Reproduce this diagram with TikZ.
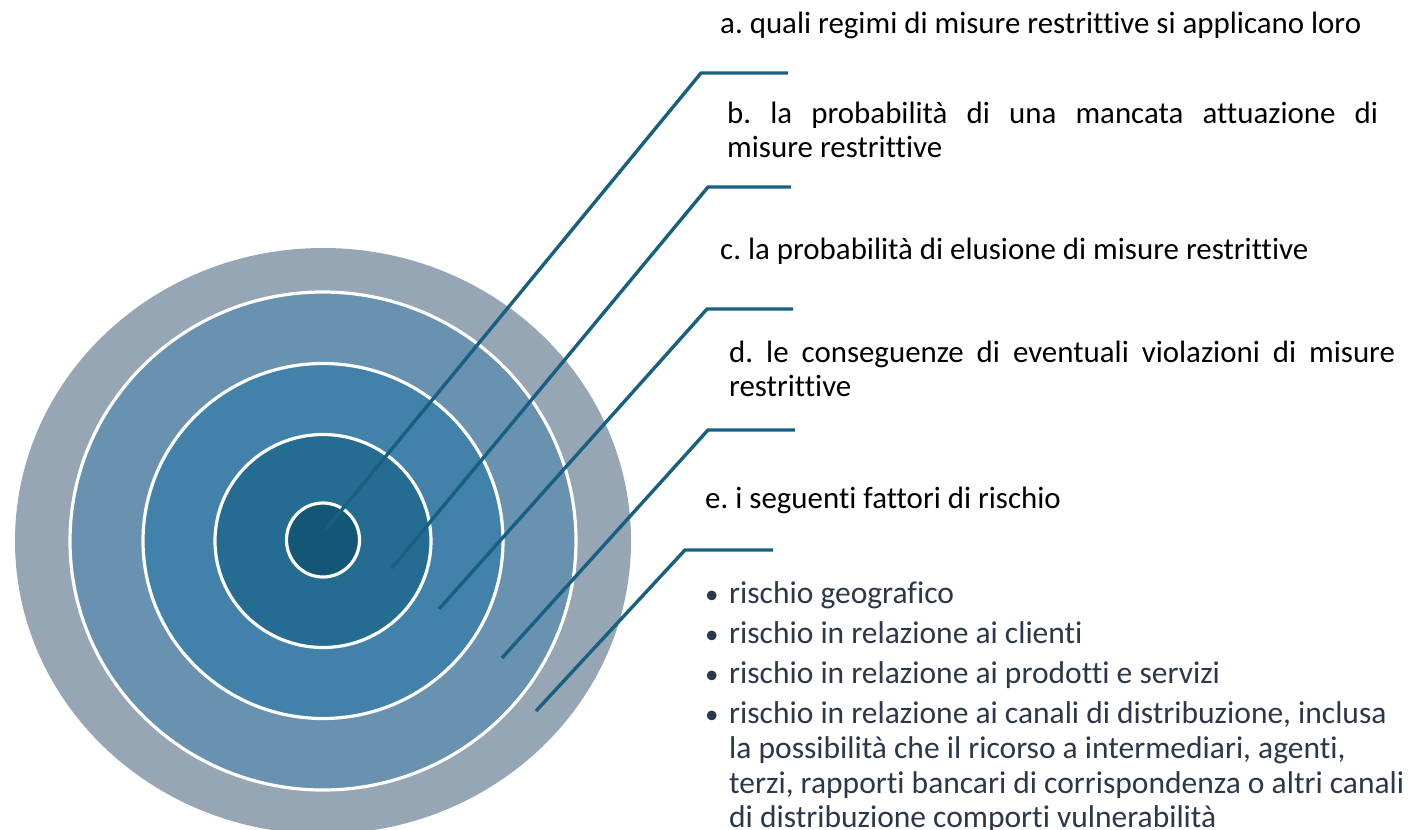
\documentclass[tikz,border=0pt]{standalone}
\usepackage{fontspec}
\setmainfont{Carlito}[Ligatures=NoCommon]
\definecolor{ringA}{RGB}{151,166,180}
\definecolor{ringB}{RGB}{105,146,177}
\definecolor{ringC}{RGB}{66,129,170}
\definecolor{ringD}{RGB}{37,108,146}
\definecolor{ringE}{RGB}{19,86,117}
\definecolor{leadc}{RGB}{24,96,130}
\definecolor{bulc}{RGB}{42,56,74}
\tikzset{
  ringstyle/.style={draw=white,line width=3.2pt},
  leader/.style={draw=leadc,line width=3.4pt,line join=miter},
  head/.style={anchor=base west,inner sep=0pt,font=\fontsize{30.9}{35}\selectfont,text=black},
  bul/.style={anchor=base west,inner sep=0pt,font=\fontsize{31.5}{35}\selectfont,text=bulc},
  dot/.style={anchor=base west,inner sep=0pt,font=\fontsize{27}{33}\selectfont,text=bulc},
}
\frenchspacing
\begin{document}
\begin{tikzpicture}[x=1pt,y=-1pt]
\useasboundingbox (0,0) rectangle (1409,830);
\clip (0,0) rectangle (1409,830);
% target rings
\fill[ringA] (323,541) ellipse [x radius=308,y radius=293];
\filldraw[ringstyle,fill=ringB] (323,541) ellipse [x radius=253,y radius=249];
\filldraw[ringstyle,fill=ringC] (323,541) ellipse [x radius=180,y radius=177.5];
\filldraw[ringstyle,fill=ringD] (323,541) ellipse [x radius=108,y radius=106.5];
\filldraw[ringstyle,fill=ringE] (323,540) ellipse [x radius=36.5,y radius=37];
% leader coordinates
\coordinate (a0) at (326,529); \coordinate (a1) at (701,73); \coordinate (a2) at (788,73);
\coordinate (b0) at (392,568); \coordinate (b1) at (708,187); \coordinate (b2) at (791,187);
\coordinate (c0) at (439,609); \coordinate (c1) at (707,309); \coordinate (c2) at (793,309);
\coordinate (d0) at (502,658); \coordinate (d1) at (708,430); \coordinate (d2) at (795,430);
\coordinate (e0) at (536,711); \coordinate (e1) at (685,550); \coordinate (e2) at (773,550);
\draw[leader] (a0) -- (a1) -- (a2);
\draw[leader] (b0) -- (b1) -- (b2);
\draw[leader] (c0) -- (c1) -- (c2);
\draw[leader] (d0) -- (d1) -- (d2);
\draw[leader] (e0) -- (e1) -- (e2);
% headings
\node[head] (ta) at (720,33) {a. quali regimi di misure restrittive si applicano loro};
\node[head] (tb1) at (727,123) {\makebox[651pt][s]{b. la probabilità di una mancata attuazione di}};
\node[head] (tb2) at (727,157) {misure restrittive};
\node[head] (tc) at (720,259) {c. la probabilità di elusione di misure restrittive};
\node[head] (td1) at (729,362) {\makebox[666pt][s]{d. le conseguenze di eventuali violazioni di misure}};
\node[head] (td2) at (729,396) {restrittive};
\node[head] (te) at (705,508) {e. i seguenti fattori di rischio};
% bullets
\node[dot] (k1) at (705,603) {•};
\node[dot] (k2) at (705,643) {•};
\node[dot] (k3) at (705,683) {•};
\node[dot] (k4) at (705,723) {•};
\node[bul] (l1) at (729,603) {rischio geografico};
\node[bul] (l2) at (729,643) {rischio in relazione ai clienti};
\node[bul] (l3) at (729,683) {rischio in relazione ai prodotti e servizi};
\node[bul] (l4) at (729,723) {rischio in relazione ai canali di distribuzione, inclusa};
\node[bul] (l5) at (729,758) {la possibilità che il ricorso a intermediari, agenti,};
\node[bul] (l6) at (729,793) {terzi, rapporti bancari di corrispondenza o altri canali};
\node[bul] (l7) at (729,827) {di distribuzione comporti vulnerabilità};
\end{tikzpicture}
\end{document}
